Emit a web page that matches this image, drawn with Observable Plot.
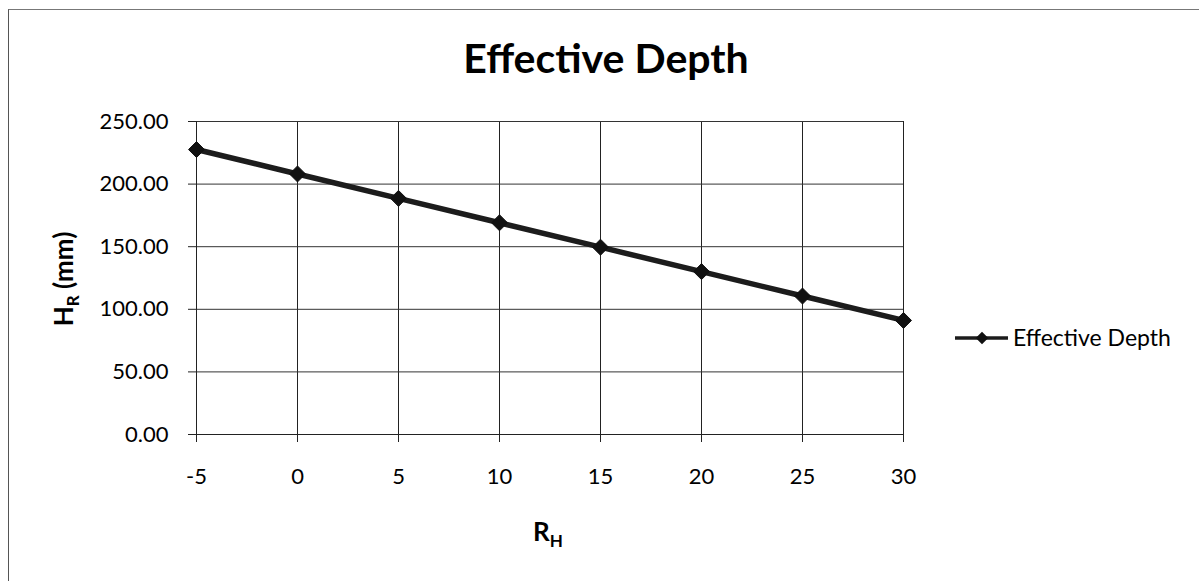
<!DOCTYPE html>
<html>
<head>
<meta charset="utf-8">
<script src="https://cdn.jsdelivr.net/npm/d3@7"></script>
<script src="https://cdn.jsdelivr.net/npm/@observablehq/plot@0.6"></script>
<style>
  html, body { margin: 0; padding: 0; background: #fff; }
  #wrap { position: relative; width: 1199px; height: 581px; overflow: hidden; }
  #frame { position: absolute; left: 8px; top: 9px; width: 1300px; height: 700px;
           border-top: 1.5px solid #777; border-left: 1.5px solid #555; pointer-events: none; }
  svg { font-family: Lato, "Open Sans", sans-serif; }
</style>
</head>
<body>
<div id="wrap"><div id="frame"></div></div>
<script>
const rh = [-5, 0, 5, 10, 15, 20, 25, 30];
const depth = [227.6, 208.1, 188.6, 169.1, 149.6, 130.1, 110.6, 91.1];
const yTicks = [0, 50, 100, 150, 200, 250];
const seriesName = "Effective Depth";
const chartTitle = "Effective Depth";

const data = rh.map((x, i) => ({x, y: depth[i]}));

const plot = Plot.plot({
  width: 1199,
  height: 581,
  marginLeft: 196,
  marginRight: 296,
  marginTop: 121,
  marginBottom: 147,
  style: {fontFamily: "Lato, 'Open Sans', sans-serif", fontSize: "22px", color: "#000", background: "transparent"},
  x: {domain: [-5, 30], label: null},
  y: {domain: [0, 250], label: null},
  marks: [
    Plot.gridX(rh, {stroke: "#222", strokeOpacity: 1, strokeWidth: 1}),
    Plot.gridY(yTicks, {stroke: "#333", strokeOpacity: 1, strokeWidth: 1}),
    Plot.axisX({ticks: rh, tickSize: 8, tickPadding: 26, tickFormat: d => String(d), label: null, stroke: "#222", fontSize: 22}),
    Plot.axisY({ticks: yTicks, tickSize: 8, tickPadding: 20, tickFormat: d => d.toFixed(2), label: null, stroke: "#222", fontSize: 22}),
    Plot.ruleY([0], {stroke: "#222"}),
    Plot.ruleX([-5], {stroke: "#222"}),
    Plot.line(data, {x: "x", y: "y", stroke: "#1c1c1c", strokeWidth: 5.5}),
    Plot.dot(data, {x: "x", y: "y", symbol: "diamond2", r: 7.2, fill: "#111", stroke: "#111", strokeWidth: 1})
  ]
});

document.getElementById("wrap").appendChild(plot);
const svg = d3.select(plot);

// Title
svg.append("text")
  .attr("x", 606).attr("y", 73)
  .attr("text-anchor", "middle")
  .attr("font-size", 41).attr("font-weight", "bold")
  .attr("fill", "#000")
  .text(chartTitle);

// Y axis label H_R (mm)
const yl = svg.append("text")
  .attr("transform", "translate(73,279) rotate(-90)")
  .attr("text-anchor", "middle")
  .attr("font-size", 26).attr("font-weight", "bold").attr("fill", "#000");
yl.append("tspan").text("H");
yl.append("tspan").attr("font-size", 17).attr("dy", 6).text("R");
yl.append("tspan").attr("dy", -6).text(" (mm)");

// X axis label R_H
const xl = svg.append("text")
  .attr("x", 548).attr("y", 541)
  .attr("text-anchor", "middle")
  .attr("font-size", 26).attr("font-weight", "bold").attr("fill", "#000");
xl.append("tspan").text("R");
xl.append("tspan").attr("font-size", 17).attr("dy", 6).text("H");

// Legend
const lg = svg.append("g").attr("transform", "translate(955,338)");
lg.append("line").attr("x1", 0).attr("x2", 53).attr("y1", 0).attr("y2", 0)
  .attr("stroke", "#1c1c1c").attr("stroke-width", 3.5);
lg.append("path").attr("d", d3.symbol(d3.symbolDiamond2, 100)())
  .attr("transform", "translate(27,0)").attr("fill", "#111");
lg.append("text").attr("x", 58).attr("y", 7.5)
  .attr("text-anchor", "start")
  .attr("font-size", 23).attr("fill", "#000").text(seriesName);
</script>
</body>
</html>
